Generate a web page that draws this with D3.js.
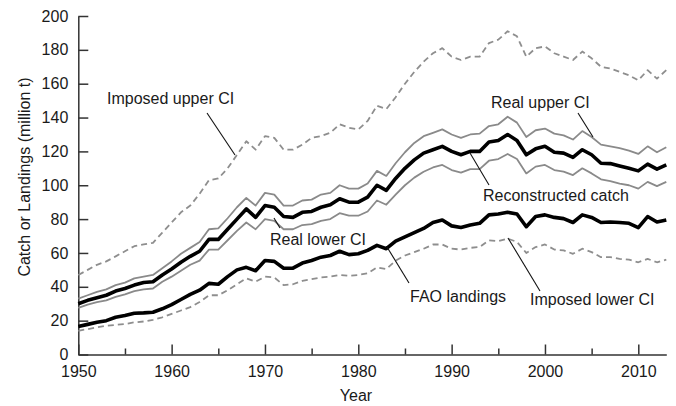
<!DOCTYPE html>
<html>
<head>
<meta charset="utf-8">
<script src="https://cdn.jsdelivr.net/npm/d3@7"></script>
<style>
  body { margin: 0; background: #fff; }
  svg text { font-family: Arial, "Liberation Sans", Helvetica, sans-serif; fill: #1a1a1a; }
</style>
</head>
<body>
<svg width="676" height="406"></svg>
<script>
// years 1950-2013
var years = d3.range(1950, 2014);

// million t
var reconstructed = [30, 32, 33.5, 35, 37.5, 39, 41, 42.5, 43, 47, 50.5, 54.5, 58, 61, 68, 68, 74, 80, 86, 81,
    88, 87, 81.5, 81, 84, 84.5, 87, 88.5, 92, 90, 90, 93, 100, 97, 104, 110, 115, 119, 121, 123,
    120, 118, 120, 120, 125.5, 126.5, 130, 126.5, 118, 121.5, 123, 119.5, 119, 116.5, 121, 118, 113, 112.8, 111.4, 110,
    108.5, 112.5, 109.5, 112];
var fao = [16.5, 17.8, 19, 20, 22, 23, 24.4, 24.6, 25, 27, 29.5, 32.5, 35.5, 38, 42, 41.5, 46, 50, 51.5, 49.5,
    55.5, 55, 51, 51, 54, 55.5, 57.5, 58.5, 61, 59, 59.5, 61.5, 64.5, 62.5, 67, 69.5, 72, 74.5, 78, 79.5,
    76, 75, 76.5, 77.5, 82.5, 83, 84, 83, 75.5, 81.5, 82.5, 81, 80.3, 78, 82.5, 81, 78, 78.3, 78, 77.5,
    75, 81.5, 78.3, 79.5];
var realUpper = [33, 35, 37, 38.5, 41, 42.5, 45, 46, 47, 51, 55, 59.5, 63, 66.5, 74, 74.5, 80.5, 87, 92.5, 88,
    95.5, 94.5, 88, 88, 91, 91.5, 94.5, 95.5, 100, 98, 98, 101, 108.5, 105.5, 113, 119.5, 125, 129, 131, 133,
    130, 128, 130, 130.5, 135, 136, 140.5, 137, 128.5, 132.5, 133.5, 130.5, 129.5, 127, 132, 128.5, 124, 123, 122, 120.5,
    118.5, 123, 119.5, 122.5];
var realLower = [27.5, 29.5, 31, 32, 34, 35.5, 37.5, 38.5, 39, 43, 46, 49.5, 53, 55.5, 62, 62, 67.5, 73, 78, 74,
    80, 79, 74, 74, 76.5, 77, 79, 80, 83.5, 82, 82, 84.5, 91, 88.5, 94.5, 100, 104.5, 108, 110.5, 112,
    109, 107.5, 109.5, 109.5, 114.5, 115.5, 118.5, 115.5, 107, 111, 112, 109, 108, 106, 110, 107, 103.5, 102.5, 101, 100,
    98, 102, 99.5, 102];
var imposedUpper = [47, 50, 53, 55, 58, 61, 64, 65, 66, 72, 78, 84, 88, 95, 103, 104, 110, 118, 126, 121,
    129, 128, 121, 121, 124, 128, 129, 131, 136, 134, 133, 138, 147, 145, 152, 160, 167, 173, 178, 181,
    176, 174, 176, 176, 184, 186, 191, 188, 176, 181, 182, 178, 176, 174, 179, 175, 170, 169, 167, 165,
    162, 168, 163, 168];
var imposedLower = [14, 15, 16, 17, 17.5, 18, 19, 19.5, 20.5, 22, 24, 26, 28, 31, 35, 35, 38, 41.5, 45, 43,
    46, 45.5, 41, 41.5, 43.5, 44.5, 45.5, 46, 47, 46.5, 47, 48, 51.5, 50.5, 55.5, 58.5, 60.5, 62.5, 65, 65,
    62.5, 62, 63, 63.5, 67.5, 67, 68.5, 66.5, 60, 63.5, 65, 62, 61.5, 59.5, 62.5, 60.5, 57.5, 57.5, 56.5, 56,
    54.5, 56.5, 54.5, 56];

var majorTicks = [1950, 1960, 1970, 1980, 1990, 2000, 2010];
var minorTicks = [1955, 1965, 1975, 1985, 1995, 2005];
var yTicks = [0, 20, 40, 60, 80, 100, 120, 140, 160, 180, 200];

var svg = d3.select("svg");

var x = d3.scaleLinear().domain([1950, 2013]).range([78.3, 666.3]);
var y = d3.scaleLinear().domain([0, 200]).range([354.5, 16]);

var line = function (vals) {
    return d3.line()
        .x(function (d, i) { return x(years[i]); })
        .y(function (d) { return y(d); })(vals);
};

// axes, ticks point inward
var yAxis = svg.append("g")
    .attr("transform", "translate(" + x(1950) + ",0)")
    .call(d3.axisLeft(y).tickValues(yTicks).tickSize(-10).tickSizeOuter(0).tickPadding(10));
var xAxis = svg.append("g")
    .attr("transform", "translate(0," + y(0) + ")")
    .call(d3.axisBottom(x).tickValues(majorTicks).tickFormat(d3.format("d")).tickSize(-10).tickSizeOuter(0).tickPadding(11));
var xMinor = svg.append("g")
    .attr("transform", "translate(0," + y(0) + ")")
    .call(d3.axisBottom(x).tickValues(minorTicks).tickFormat("").tickSize(-6).tickSizeOuter(0));
xMinor.select(".domain").remove();

svg.selectAll(".domain, .tick line")
    .attr("stroke", "#333")
    .attr("stroke-width", 1.5);
svg.selectAll(".tick text")
    .attr("font-size", 16)
    .attr("fill", "#1a1a1a");

// series
var series = [
    { v: imposedUpper, c: "#8e8e8e", w: 1.8, dash: "6,4" },
    { v: imposedLower, c: "#8e8e8e", w: 1.8, dash: "6,4" },
    { v: realUpper, c: "#8a8a8a", w: 1.8, dash: null },
    { v: realLower, c: "#8a8a8a", w: 1.8, dash: null },
    { v: fao, c: "#000", w: 3.6, dash: null },
    { v: reconstructed, c: "#000", w: 3.6, dash: null }
];
svg.append("g")
    .selectAll("path")
    .data(series)
    .enter()
    .append("path")
    .attr("d", function (d) { return line(d.v); })
    .attr("fill", "none")
    .attr("stroke", function (d) { return d.c; })
    .attr("stroke-width", function (d) { return d.w; })
    .attr("stroke-dasharray", function (d) { return d.dash; })
    .attr("stroke-linejoin", "round");

// annotations
var notes = [
    { t: "Imposed upper CI", tx: 107, ty: 104, x1: 207, y1: 113, x2: 235, y2: 155 },
    { t: "Real upper CI", tx: 491, ty: 108, x1: 578, y1: 113, x2: 593, y2: 137 },
    { t: "Reconstructed catch", tx: 483, ty: 201, x1: 489, y1: 185, x2: 470, y2: 153 },
    { t: "Real lower CI", tx: 270, ty: 245, x1: 280, y1: 228, x2: 274, y2: 218 },
    { t: "FAO landings", tx: 410, ty: 302, x1: 409, y1: 283, x2: 387, y2: 247 },
    { t: "Imposed lower CI", tx: 530, ty: 305, x1: 540, y1: 291, x2: 508, y2: 238 }
];
var ann = svg.append("g").selectAll("g").data(notes).enter().append("g");
ann.append("line")
    .attr("x1", function (d) { return d.x1; })
    .attr("y1", function (d) { return d.y1; })
    .attr("x2", function (d) { return d.x2; })
    .attr("y2", function (d) { return d.y2; })
    .attr("stroke", "#111")
    .attr("stroke-width", 1.1);
ann.append("text")
    .attr("x", function (d) { return d.tx; })
    .attr("y", function (d) { return d.ty; })
    .attr("font-size", 16)
    .text(function (d) { return d.t; });

// axis titles
svg.append("text")
    .attr("x", 356)
    .attr("y", 401)
    .attr("text-anchor", "middle")
    .attr("font-size", 16)
    .text("Year");
svg.append("text")
    .attr("transform", "translate(30,177) rotate(-90)")
    .attr("text-anchor", "middle")
    .attr("font-size", 16)
    .text("Catch or Landings (million t)");
</script>
</body>
</html>
